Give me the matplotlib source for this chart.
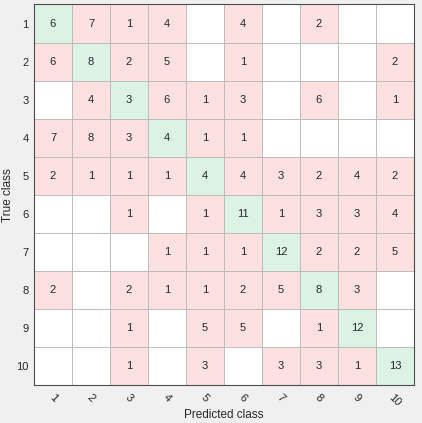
import numpy as np
import matplotlib
matplotlib.use("Agg")
import matplotlib.pyplot as plt
from matplotlib.patches import Rectangle

plt.rcParams['font.family'] = ['Liberation Sans', 'DejaVu Sans']

# ── data ──────────────────────────────────────────────────────────────────────
classes = [str(i) for i in range(1, 11)]
counts = np.array([
    [6, 7, 1, 4, 0, 4, 0, 2, 0, 0],
    [6, 8, 2, 5, 0, 1, 0, 0, 0, 2],
    [0, 4, 3, 6, 1, 3, 0, 6, 0, 1],
    [7, 8, 3, 4, 1, 1, 0, 0, 0, 0],
    [2, 1, 1, 1, 4, 4, 3, 2, 4, 2],
    [0, 0, 1, 0, 1, 11, 1, 3, 3, 4],
    [0, 0, 0, 1, 1, 1, 12, 2, 2, 5],
    [2, 0, 2, 1, 1, 2, 5, 8, 3, 0],
    [0, 0, 1, 0, 5, 5, 0, 1, 12, 0],
    [0, 0, 1, 0, 3, 0, 3, 3, 1, 13],
])

diag_color = "#dcf2e5"
off_color = "#fde0e0"

fig = plt.figure(figsize=(4.22, 4.23), dpi=100, facecolor="#f0f0f0")
ax = fig.add_axes([34 / 422, 1 - 385 / 423, 380 / 422, 380.5 / 423])
n = len(classes)

for i in range(n):
    for j in range(n):
        v = counts[i, j]
        if v == 0:
            fc = "white"
        else:
            fc = diag_color if i == j else off_color
        ax.add_patch(Rectangle((j, i), 1, 1, facecolor=fc, edgecolor="#b8b8b8", lw=0.6))
        if v:
            ax.text(j + 0.5, i + 0.5, str(v), ha="center", va="center",
                    fontsize=8, color="#262626")

ax.set_xlim(0, n)
ax.set_ylim(n, 0)
ax.set_xticks(np.arange(n) + 0.5)
ax.set_yticks(np.arange(n) + 0.5)
ax.set_xticklabels(classes, rotation=-45, ha="center", fontsize=8, color="#262626")
ax.set_yticklabels(classes, fontsize=8, color="#262626")
ax.tick_params(axis="y", length=0, pad=4)
ax.tick_params(axis="x", length=0, pad=5)
for s in ax.spines.values():
    s.set_color("#4d4d4d")
    s.set_linewidth(0.8)
ax.set_xlabel("Predicted class", fontsize=8.5, color="#262626", va="center")
ax.set_ylabel("True class", fontsize=8.5, color="#262626", va="center")
ax.xaxis.set_label_coords(0.5, -0.079)
ax.yaxis.set_label_coords(-0.068, 0.5)

fig.savefig("out.png", dpi=100, facecolor=fig.get_facecolor())
